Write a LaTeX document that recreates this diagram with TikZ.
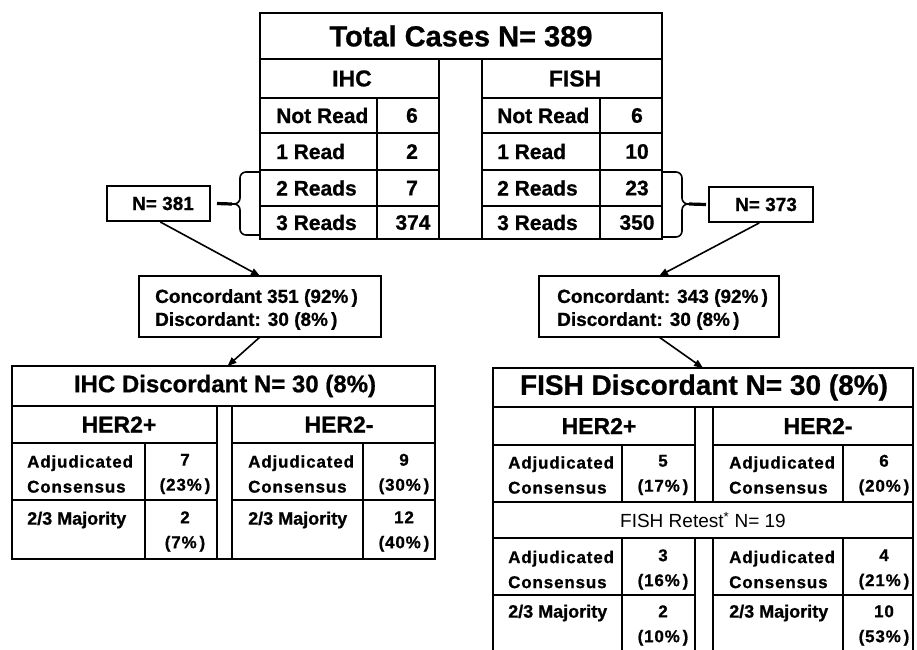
\documentclass[tikz,border=0pt]{standalone}
\usepackage{fontspec}
\setmainfont{Liberation Sans}[BoldFeatures={FakeBold=0.8}]
\usetikzlibrary{arrows.meta}
\newcommand\fsz[2]{\fontsize{#1pt}{#2pt}\selectfont}
\begin{document}
\begin{tikzpicture}[x=1pt,y=-1pt,
  outer/.style={draw, line width=2.2pt, rectangle, inner sep=0pt, outer sep=0pt, anchor=north west},
  smallbox/.style={draw, line width=1.5pt, rectangle, inner sep=0pt, outer sep=0pt, anchor=north west},
  grid/.style={line width=1.4pt},
  bigtitle/.style={font=\bfseries\fsz{29}{32}, inner sep=0pt},
  hdr/.style={font=\bfseries\fsz{23}{26}, inner sep=0pt},
  lbl/.style={font=\bfseries\fsz{21}{24}, anchor=west, inner sep=0pt},
  num/.style={font=\bfseries\fsz{21}{24}, inner sep=0pt},
  ntext/.style={font=\bfseries\fsz{19}{22}, inner sep=0pt},
  conctext/.style={font=\bfseries\fsz{19}{23}, align=left, anchor=west, inner sep=0pt},
  cell/.style={font=\bfseries\fsz{17}{25}\addfontfeatures{LetterSpace=5}, align=left, anchor=west, inner sep=0pt},
  cellnum/.style={font=\bfseries\fsz{17}{25}\addfontfeatures{LetterSpace=5}, align=center, inner sep=0pt},
  maj/.style={font=\bfseries\fsz{18}{22}, anchor=west, inner sep=0pt},
  bracepath/.style={line width=1.6pt, rounded corners=6pt},
  stub/.style={line width=3.2pt},
  arr/.style={line width=1.6pt, -{Triangle[length=9pt,width=7pt]}}
]
\useasboundingbox (0,0) rectangle (917,649);

% ---------- top table ----------
\node[outer, minimum width=402pt, minimum height=226pt] (total) at (260,13) {};
\draw[grid] (260,59) -- (662,59);
\draw[grid] (439,59) -- (439,239) (482,59) -- (482,239);
\foreach \yy in {98,133,170,206} {
  \draw[grid] (260,\yy) -- (439,\yy) (482,\yy) -- (662,\yy);
}
\draw[grid] (377,98) -- (377,239) (600,98) -- (600,239);
\node[bigtitle] (ttitle) at (461,36) {Total Cases N= 389};
\node[hdr] (hihc) at (352,78.5) {IHC};
\node[hdr] (hfish) at (575,78.5) {FISH};
\node[lbl] (l1) at (276,115.5) {Not Read};
\node[lbl] (l2) at (276,151.5) {1 Read};
\node[lbl] (l3) at (276,188) {2 Reads};
\node[lbl] (l4) at (276,222.5) {3 Reads};
\node[num] (v1) at (412,115.5) {6};
\node[num] (v2) at (412,151.5) {2};
\node[num] (v3) at (412,188) {7};
\node[num] (v4) at (413,222.5) {374};
\node[lbl] (r1) at (497,115.5) {Not Read};
\node[lbl] (r2) at (497,151.5) {1 Read};
\node[lbl] (r3) at (497,188) {2 Reads};
\node[lbl] (r4) at (497,222.5) {3 Reads};
\node[num] (w1) at (637,115.5) {6};
\node[num] (w2) at (637,151.5) {10};
\node[num] (w3) at (637,188) {23};
\node[num] (w4) at (637,222.5) {350};

% ---------- braces and N boxes ----------
\coordinate (btipL) at (232,204);
\coordinate (btipR) at (689,204);
\draw[bracepath] (259,172) -- (240,172) -- (240,204) -- (btipL);
\draw[bracepath] (btipL) -- (240,204) -- (240,235) -- (259,235);
\draw[bracepath] (662,172) -- (682,172) -- (682,204) -- (btipR);
\draw[bracepath] (btipR) -- (682,204) -- (682,237) -- (662,237);

\node[smallbox, minimum width=103pt, minimum height=35pt] (n381) at (107,186) {};
\node[ntext] (t381) at (163,203.5) {N= 381};
\node[smallbox, minimum width=104pt, minimum height=35pt] (n373) at (709,187) {};
\node[ntext] (t373) at (766,204.5) {N= 373};
\draw[stub] ([xshift=7pt]n381.east) -- (btipL);
\draw[stub] (btipR) -- ([xshift=-3pt]n373.west);

% ---------- concordance boxes ----------
\node[smallbox, minimum width=242pt, minimum height=61pt] (concL) at (139,276) {};
\node[conctext] (concLt) at (155,309.5) {Concordant 351 (92\%\,)\\Discordant: 30 (8\%\,)};
\node[smallbox, minimum width=240pt, minimum height=61pt] (concR) at (539,276) {};
\node[conctext] (concRt) at (557,309.5) {Concordant: 343 (92\%\,)\\Discordant: 30 (8\%\,)};

% ---------- IHC discordant table ----------
\node[outer, minimum width=423pt, minimum height=193pt] (ihcd) at (12,366) {};
\draw[grid] (12,406) -- (435,406);
\draw[grid] (217,406) -- (217,559) (232,406) -- (232,559);
\draw[grid] (12,443) -- (217,443) (232,443) -- (435,443);
\draw[grid] (12,500) -- (217,500) (232,500) -- (435,500);
\draw[grid] (145,443) -- (145,559) (363,443) -- (363,559);
\node[font=\bfseries\fsz{24}{27}, inner sep=0pt] (ihcdt) at (225,386) {IHC Discordant N= 30 (8\%)};
\node[hdr] (ihp) at (119,424.5) {HER2+};
\node[hdr] (ihm) at (339,424.5) {HER2-};
\node[cell] (ia1) at (27,474) {Adjudicated\\Consensus};
\node[cellnum] (ian1) at (185,474) {7\\(23\%\,)};
\node[cell] (ia2) at (248,474) {Adjudicated\\Consensus};
\node[cellnum] (ian2) at (404,474) {9\\(30\%\,)};
\node[maj] (im1) at (27,520) {2/3 Majority};
\node[cellnum] (imn1) at (185,531.5) {2\\(7\%\,)};
\node[maj] (im2) at (248,520) {2/3 Majority};
\node[cellnum] (imn2) at (404,531.5) {12\\(40\%\,)};

% ---------- FISH discordant table ----------
\node[outer, minimum width=420pt, minimum height=292pt] (fishd) at (493,368) {};
\draw[grid] (493,407) -- (913,407);
\draw[grid] (695,407) -- (695,502) (713,407) -- (713,502);
\draw[grid] (695,538) -- (695,662) (713,538) -- (713,662);
\draw[grid] (493,445) -- (695,445) (713,445) -- (913,445);
\draw[grid] (493,502) -- (913,502);
\draw[grid] (493,538) -- (913,538);
\draw[grid] (493,595) -- (695,595) (713,595) -- (913,595);
\draw[grid] (622,445) -- (622,502) (843,445) -- (843,502);
\draw[grid] (622,538) -- (622,662) (843,538) -- (843,662);
\node[font=\bfseries\fsz{28}{31}, inner sep=0pt] (fishdt) at (704,387.5) {FISH Discordant N= 30 (8\%)};
\node[hdr] (fhp) at (599,426) {HER2+};
\node[hdr] (fhm) at (818,426) {HER2-};
\node[cell] (fa1) at (508,475) {Adjudicated\\Consensus};
\node[cellnum] (fan1) at (663,475) {5\\(17\%\,)};
\node[cell] (fa2) at (729,475) {Adjudicated\\Consensus};
\node[cellnum] (fan2) at (884,475) {6\\(20\%\,)};
\node[font=\fsz{19}{22}, inner sep=0pt] (retest) at (703,520) {FISH Retest\textsuperscript{*} N= 19};
\node[cell] (fb1) at (508,569.5) {Adjudicated\\Consensus};
\node[cellnum] (fbn1) at (663,569.5) {3\\(16\%\,)};
\node[cell] (fb2) at (729,569.5) {Adjudicated\\Consensus};
\node[cellnum] (fbn2) at (884,569.5) {4\\(21\%\,)};
\node[maj] (fm1) at (508,613) {2/3 Majority};
\node[cellnum] (fmn1) at (663,625.5) {2\\(10\%\,)};
\node[maj] (fm2) at (729,613) {2/3 Majority};
\node[cellnum] (fmn2) at (884,625.5) {10\\(53\%\,)};

% ---------- arrows ----------
\draw[arr, shorten <=2pt] (n381.south) -- (concL.north);
\draw[arr] (concL.south) -- ([xshift=4pt]ihcd.north);
\draw[arr, shorten <=2pt] (n373.south) -- (concR.north);
\draw[arr] (concR.south) -- (fishd.north);
\end{tikzpicture}
\end{document}
